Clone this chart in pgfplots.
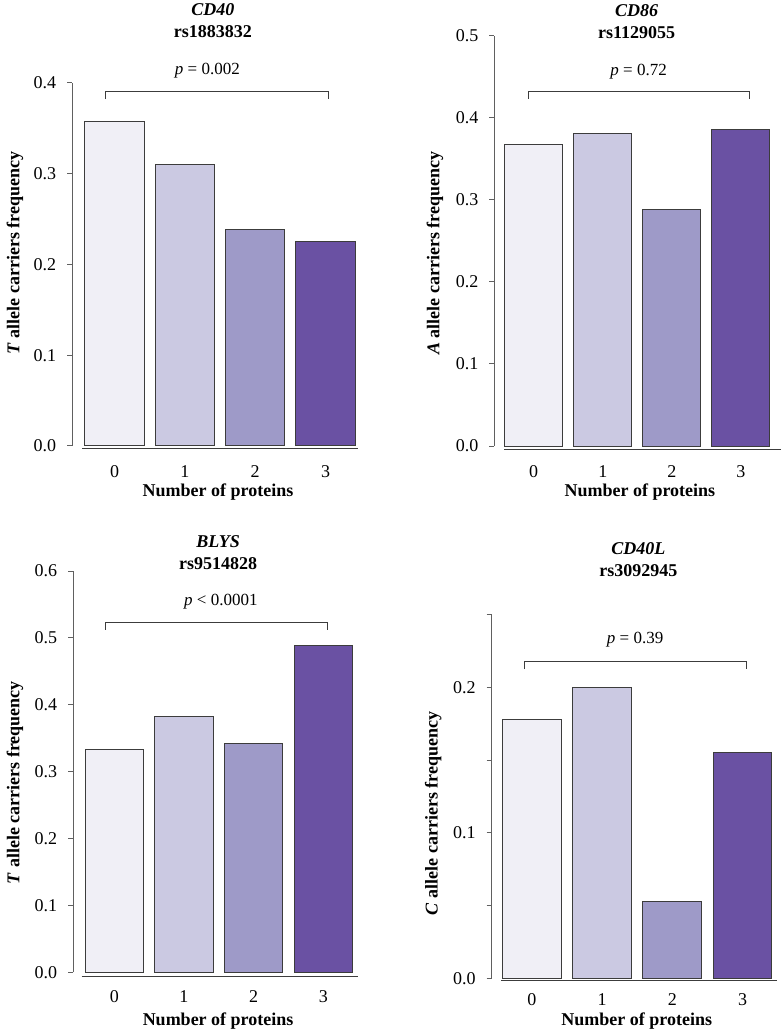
\documentclass[border=0pt]{standalone}
\usepackage{fontspec}
\setmainfont{Liberation Serif}
\usepackage{pgfplots}
\pgfplotsset{compat=1.18}
\definecolor{p0}{HTML}{F0EFF6}
\definecolor{p1}{HTML}{CBC9E2}
\definecolor{p2}{HTML}{9E9AC8}
\definecolor{p3}{HTML}{6A51A3}
\definecolor{edge}{HTML}{3C3C3C}
\definecolor{axgray}{HTML}{606060}
\pgfplotsset{
  panel/.style={
    scale only axis, anchor=south west, clip=false,
    axis lines*=left, axis line style={draw=none},
    tick align=outside, major tick length=2.5pt,
    ytick style={draw=axgray, line width=0.5pt},
    xtick style={draw=none},
    xtick={0,1,2,3},
    /pgf/number format/assume math mode=true,
    ticklabel style={font=\fontsize{9}{11}\selectfont},
    label style={font=\fontsize{9}{11}\selectfont\bfseries},
    yticklabel style={xshift=-2pt},
    xlabel={Number of proteins},
  },
  bar/.style={ybar, bar width=0.84, bar shift=0pt, draw=edge, line width=0.5pt},
}
\newcommand{\ttl}[2]{\textbf{\textit{#1}}\\\textbf{#2}}
\begin{document}
\begin{tikzpicture}
\useasboundingbox (0,0) rectangle (391.5pt,517pt);
% Panel 1: CD40
\begin{axis}[panel, at={(36.15pt,292.5pt)}, width=144.2pt, height=183.1pt,
  xmin=-0.6, xmax=3.5, ymin=-0.0033, ymax=0.4,
  xticklabel style={yshift=-2.3pt},
  ytick={0,0.1,0.2,0.3,0.4}, yticklabels={0.0,0.1,0.2,0.3,0.4},
  ylabel={\textit{T} allele carriers frequency},
  xlabel style={at={(axis description cs:0.505,-0.1174)}, anchor=center},
  ylabel style={at={(axis description cs:-0.1987,0.535)}, anchor=center}]
\addplot[bar, fill=p0] coordinates {(0,0.357)};
\addplot[bar, fill=p1] coordinates {(1,0.310)};
\addplot[bar, fill=p2] coordinates {(2,0.238)};
\addplot[bar, fill=p3] coordinates {(3,0.225)};
\draw[axgray, line width=0.5pt] (axis cs:-0.6,0) -- (axis cs:-0.6,0.4);
\draw[edge, line width=0.5pt] (axis cs:-0.46,-0.0033) -- (axis cs:3.46,-0.0033);
\draw[edge, line width=0.4pt] (axis cs:-0.125,0.382) -- (axis cs:-0.125,0.391) -- (axis cs:3.04,0.391) -- (axis cs:3.04,0.382);
\node[font=\fontsize{8.5}{10}\selectfont] at (axis cs:1.32,0.413) {\textit{p} = 0.002};
\node[align=center, font=\fontsize{9}{11}\selectfont] at (axis cs:1.40,0.468) {\ttl{CD40}{rs1883832}};
\end{axis}
% Panel 2: CD86
\begin{axis}[panel, at={(247.2pt,292.35pt)}, width=143.2pt, height=206.8pt,
  xmin=-0.57, xmax=3.58, ymin=-0.004, ymax=0.5,
  xticklabel style={yshift=-2pt},
  ytick={0,0.1,0.2,0.3,0.4,0.5}, yticklabels={0.0,0.1,0.2,0.3,0.4,0.5},
  ylabel={\textit{A} allele carriers frequency},
  xlabel style={at={(axis description cs:0.508,-0.1025)}, anchor=center},
  ylabel style={at={(axis description cs:-0.2074,0.4746)}, anchor=center}]
\addplot[bar, fill=p0] coordinates {(0,0.368)};
\addplot[bar, fill=p1] coordinates {(1,0.381)};
\addplot[bar, fill=p2] coordinates {(2,0.288)};
\addplot[bar, fill=p3] coordinates {(3,0.386)};
\draw[axgray, line width=0.5pt] (axis cs:-0.57,0) -- (axis cs:-0.57,0.5);
\draw[edge, line width=0.5pt] (axis cs:-0.43,-0.004) -- (axis cs:3.58,-0.004);
\draw[edge, line width=0.4pt] (axis cs:-0.08,0.423) -- (axis cs:-0.08,0.432) -- (axis cs:3.12,0.432) -- (axis cs:3.12,0.423);
\node[font=\fontsize{8.5}{10}\selectfont] at (axis cs:1.52,0.456) {\textit{p} = 0.72};
\node[align=center, font=\fontsize{9}{11}\selectfont] at (axis cs:1.49,0.517) {\ttl{CD86}{rs1129055}};
\end{axis}
% Panel 3: BLYS
\begin{axis}[panel, at={(36.65pt,28.75pt)}, width=142.5pt, height=202.75pt,
  xmin=-0.588, xmax=3.502, ymin=-0.006, ymax=0.6,
  xticklabel style={yshift=-1.1pt},
  ytick={0,0.1,0.2,0.3,0.4,0.5,0.6}, yticklabels={0.0,0.1,0.2,0.3,0.4,0.5,0.6},
  ylabel={\textit{T} allele carriers frequency},
  xlabel style={at={(axis description cs:0.508,-0.109)}, anchor=center},
  ylabel style={at={(axis description cs:-0.2046,0.478)}, anchor=center}]
\addplot[bar, fill=p0] coordinates {(0,0.333)};
\addplot[bar, fill=p1] coordinates {(1,0.382)};
\addplot[bar, fill=p2] coordinates {(2,0.342)};
\addplot[bar, fill=p3] coordinates {(3,0.488)};
\draw[axgray, line width=0.5pt] (axis cs:-0.588,0) -- (axis cs:-0.588,0.6);
\draw[edge, line width=0.5pt] (axis cs:-0.468,-0.006) -- (axis cs:3.50,-0.006);
\draw[edge, line width=0.4pt] (axis cs:-0.125,0.512) -- (axis cs:-0.125,0.523) -- (axis cs:3.06,0.523) -- (axis cs:3.06,0.512);
\node[font=\fontsize{8.5}{10}\selectfont] at (axis cs:1.53,0.554) {\textit{p} < 0.0001};
\node[align=center, font=\fontsize{9}{11}\selectfont] at (axis cs:1.49,0.627) {\ttl{BLYS}{rs9514828}};
\end{axis}
% Panel 4: CD40L
\begin{axis}[panel, at={(245.85pt,27pt)}, width=142.8pt, height=182.6pt,
  xmin=-0.574, xmax=3.496, ymin=-0.0012, ymax=0.25,
  xticklabel style={yshift=-0.7pt},
  ytick={0,0.05,0.1,0.15,0.2,0.25}, yticklabels={0.0,,0.1,,0.2,},
  ylabel={\textit{C} allele carriers frequency},
  xlabel style={at={(axis description cs:0.508,-0.1114)}, anchor=center},
  ylabel style={at={(axis description cs:-0.2045,0.456)}, anchor=center}]
\addplot[bar, fill=p0] coordinates {(0,0.178)};
\addplot[bar, fill=p1] coordinates {(1,0.200)};
\addplot[bar, fill=p2] coordinates {(2,0.053)};
\addplot[bar, fill=p3] coordinates {(3,0.155)};
\draw[axgray, line width=0.5pt] (axis cs:-0.574,0) -- (axis cs:-0.574,0.25);
\draw[edge, line width=0.5pt] (axis cs:-0.44,-0.0012) -- (axis cs:3.496,-0.0012);
\draw[edge, line width=0.4pt] (axis cs:-0.11,0.2127) -- (axis cs:-0.11,0.2178) -- (axis cs:3.06,0.2178) -- (axis cs:3.06,0.2127);
\node[font=\fontsize{8.5}{10}\selectfont] at (axis cs:1.47,0.2327) {\textit{p} = 0.39};
\node[align=center, font=\fontsize{9}{11}\selectfont] at (axis cs:1.515,0.2877) {\ttl{CD40L}{rs3092945}};
\end{axis}
\end{tikzpicture}
\end{document}
